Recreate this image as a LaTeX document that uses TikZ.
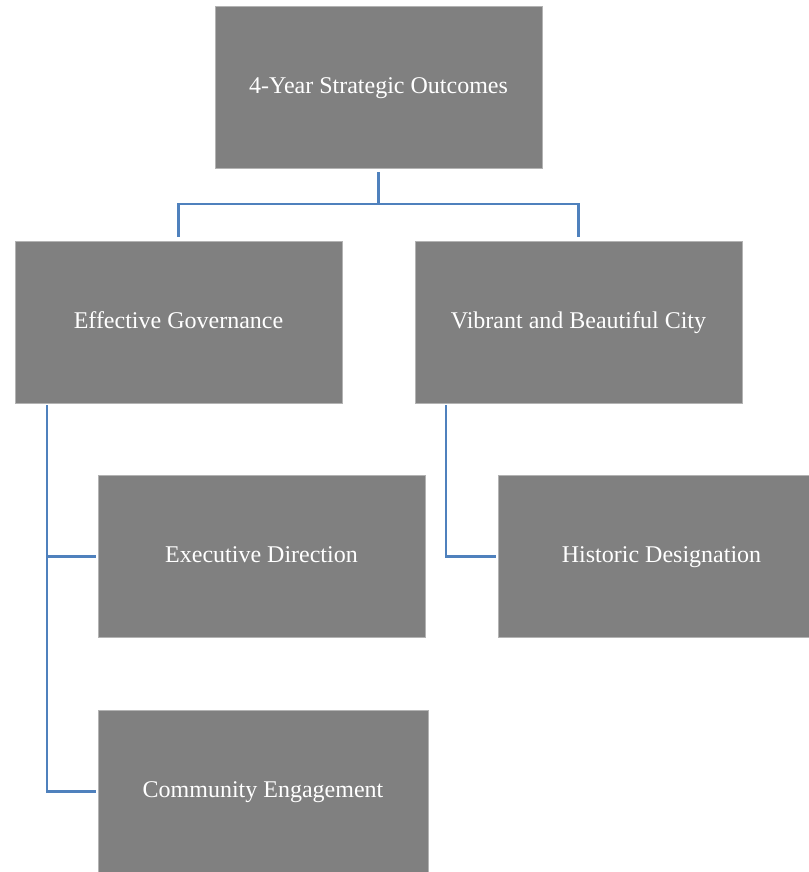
\documentclass[tikz,border=0pt]{standalone}
\usepackage{fontspec}
\setmainfont{Liberation Serif}
\usetikzlibrary{calc,positioning}
\definecolor{BoxGray}{RGB}{128,128,128}
\definecolor{LinkBlue}{RGB}{79,129,189}

\begin{document}
\begin{tikzpicture}
  [x=0.75pt,y=-0.75pt,
   every node/.style={rectangle,fill=BoxGray,draw=BoxGray!60!white,line width=0.4pt,
     minimum width=245pt,minimum height=121.5pt,inner sep=0pt,
     text height=1.1em,text depth=0.18em,
     text=white,font=\fontsize{18}{21}\selectfont},
   link/.style={draw=LinkBlue,line width=1.8pt}]
  \useasboundingbox (0,0) rectangle (808,872);
  \node (nout) at (378.5,87) {4-Year Strategic Outcomes};
  \node (ngov) at (178.5,322) {Effective Governance};
  \node (ncity) at (578.5,322) {Vibrant and Beautiful City};
  \node (nexec) at (261.5,556.5) {Executive Direction};
  \node (nhist) at (661.5,556.5) {Historic Designation};
  \node (ncomm) [minimum width=247.5pt] at (263,791.5) {Community Engagement};

\coordinate (split) at (378.5,204);
\coordinate (govtrunk) at (47,403);
\coordinate (citytrunk) at (446,403);

\draw[link,shorten <=3pt] (nout.south) -- (split);
\draw[link,shorten <=3pt,shorten >=3pt] (ngov.north) |- (split) -| (ncity.north);

\draw[link,shorten <=1.5pt,shorten >=1.5pt] (govtrunk) |- (nexec.west);
\draw[link,shorten <=1.5pt,shorten >=1.5pt] (govtrunk) |- (ncomm.west);
\draw[link,shorten <=1.5pt,shorten >=1.5pt] (citytrunk) |- (nhist.west);
\end{tikzpicture}
\end{document}
